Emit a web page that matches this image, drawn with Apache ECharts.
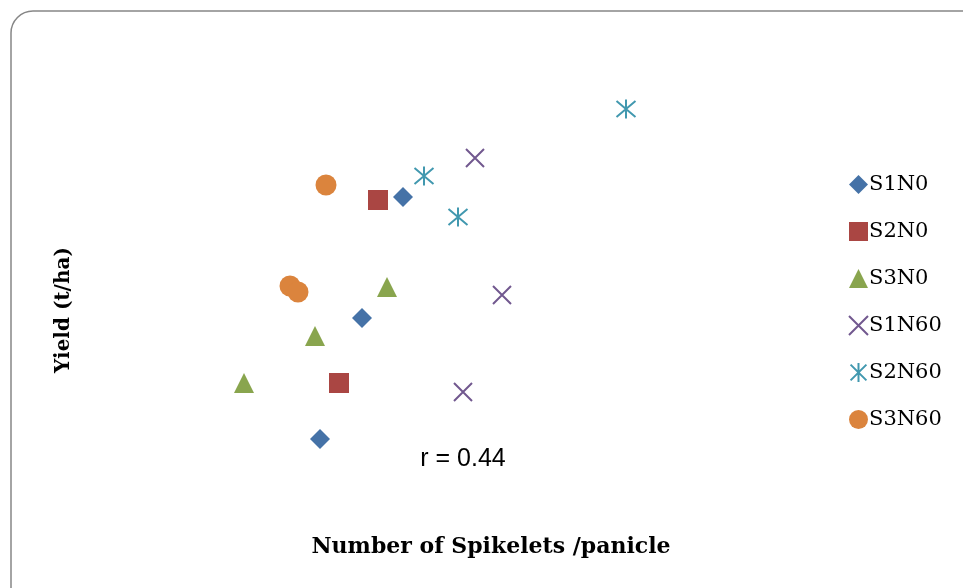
<!DOCTYPE html>
<html><head><meta charset="utf-8">
<script src="https://cdn.jsdelivr.net/npm/echarts@6/dist/echarts.min.js"></script>
<style>html,body{margin:0;padding:0;background:#fff}#c{width:963px;height:588px}</style>
</head><body><div id="c"></div>
<script>
// Values (axes hidden in the original; arbitrary relative units)
const seriesNames = ['S1N0','S2N0','S3N0','S1N60','S2N60','S3N60'];
const S1N0  = [[40.6,70.75],[32.4,40.5],[24.0,10.25]];
const S2N0  = [[35.6,70.0],[27.8,24.25]];
const S3N0  = [[37.4,48.25],[23.0,36.0],[8.8,24.25]];
const S1N60 = [[55.0,80.5],[60.4,46.25],[52.6,22.0]];
const S2N60 = [[85.2,92.75],[44.8,76.0],[51.6,65.75]];
const S3N60 = [[25.2,73.75],[18.0,48.5],[19.6,47.0]];
const seriesData = [S1N0,S2N0,S3N0,S1N60,S2N60,S3N60];
const colors = ['#4572A7','#AA4643','#89A54E','#71588F','#4198AF','#DB843D'];
const symbols = ['diamond','rect','triangle','path://M0,0L10,10M10,0L0,10','path://M0,0L10,10M10,0L0,10M5,-1L5,11','circle'];
const sizes = [20,20,20,18,19,21];
const strokeOnly = [false,false,false,true,true,false];

const chart = echarts.init(document.getElementById('c'));
chart.setOption({
  animation:false,
  grid:{left:200,right:263,top:80,bottom:108},
  xAxis:{type:'value',min:0,max:100,axisLine:{show:false},axisTick:{show:false},axisLabel:{show:false},splitLine:{show:false},
    name:'Number of Spikelets /panicle',nameLocation:'middle',nameGap:56,
    nameTextStyle:{fontFamily:'DejaVu Serif',fontWeight:'bold',fontSize:22,color:'#000',padding:[0,0,0,82]}},
  yAxis:{type:'value',min:0,max:100,axisLine:{show:false},axisTick:{show:false},axisLabel:{show:false},splitLine:{show:false},
    name:'Yield (t/ha)',nameLocation:'middle',nameGap:126,
    nameTextStyle:{fontFamily:'DejaVu Serif',fontWeight:'bold',fontSize:20,color:'#000',padding:[0,60,0,0]}},
  legend:{orient:'vertical',left:843,top:169,itemGap:26,itemWidth:19,itemHeight:19,
    textStyle:{fontFamily:'DejaVu Serif',fontSize:21,color:'#000',padding:[0,0,0,-4]},
    data:seriesNames},
  graphic:[
    {type:'rect',shape:{x:11,y:11,width:975,height:610,r:22},style:{fill:'none',stroke:'#878787',lineWidth:1.5},silent:true},
    {type:'text',x:463,y:459,style:{text:'r = 0.44',fontFamily:'Liberation Sans',fontSize:25,fill:'#000',align:'center',verticalAlign:'middle'}}
  ],
  series: seriesNames.map((n,i)=>({
    name:n,type:'scatter',data:seriesData[i],symbol:symbols[i],symbolSize:sizes[i],
    itemStyle: strokeOnly[i] ? {color:'rgba(0,0,0,0)',borderColor:colors[i],borderWidth:2,opacity:1} : {color:colors[i],opacity:1}
  }))
});
</script></body></html>
